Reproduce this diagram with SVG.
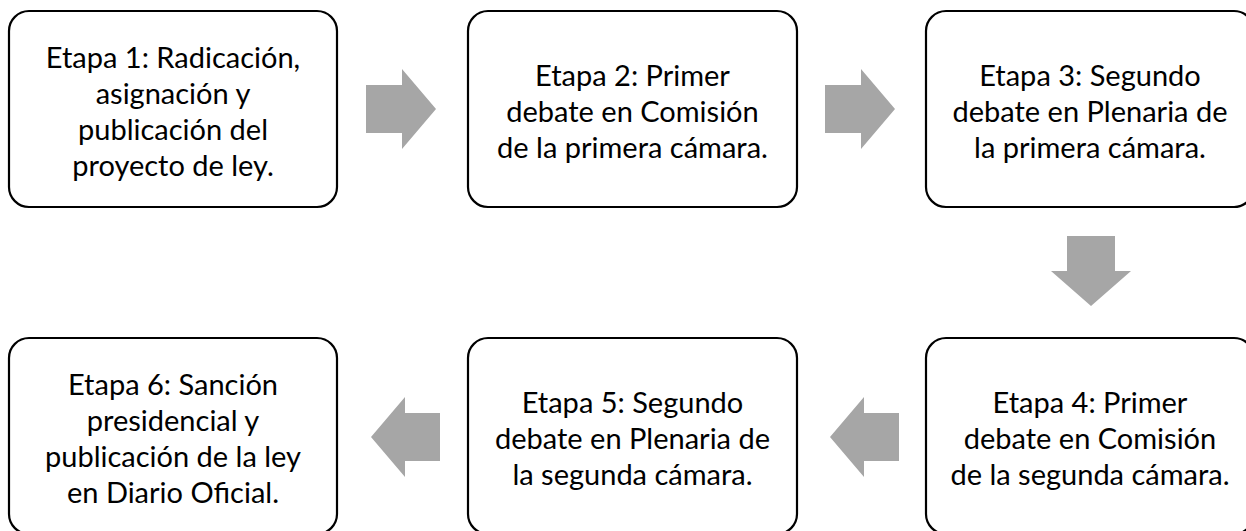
<svg xmlns="http://www.w3.org/2000/svg" width="1246" height="531" viewBox="0 0 1246 531">
<style>
.box{fill:#fff;stroke:#000;stroke-width:2.2}
.lbl{font-family:Lato,"Liberation Sans",sans-serif;font-size:29px;fill:#000;text-anchor:middle}
.arr{fill:#A6A6A6;stroke:none}
</style>
<rect width="1246" height="531" fill="#fff"/>
<g id="node1">
<rect class="box" x="9" y="11" width="328" height="196" rx="20"/>
<text class="lbl"><tspan x="173" y="68">Etapa 1: Radicación,</tspan><tspan x="173" y="104">asignación y</tspan><tspan x="173" y="140">publicación del</tspan><tspan x="173" y="176">proyecto de ley.</tspan></text>
</g>
<g id="node2">
<rect class="box" x="468" y="11" width="329" height="196" rx="20"/>
<text class="lbl"><tspan x="632.5" y="86">Etapa 2: Primer</tspan><tspan x="632.5" y="122">debate en Comisión</tspan><tspan x="632.5" y="158">de la primera cámara.</tspan></text>
</g>
<g id="node3">
<rect class="box" x="926" y="11" width="328" height="196" rx="20"/>
<text class="lbl"><tspan x="1090" y="86">Etapa 3: Segundo</tspan><tspan x="1090" y="122">debate en Plenaria de</tspan><tspan x="1090" y="158">la primera cámara.</tspan></text>
</g>
<g id="node4">
<rect class="box" x="926" y="338" width="328" height="196" rx="20"/>
<text class="lbl"><tspan x="1090" y="413">Etapa 4: Primer</tspan><tspan x="1090" y="449">debate en Comisión</tspan><tspan x="1090" y="485">de la segunda cámara.</tspan></text>
</g>
<g id="node5">
<rect class="box" x="468" y="338" width="329" height="196" rx="20"/>
<text class="lbl"><tspan x="632.5" y="413">Etapa 5: Segundo</tspan><tspan x="632.5" y="449">debate en Plenaria de</tspan><tspan x="632.5" y="485">la segunda cámara.</tspan></text>
</g>
<g id="node6">
<rect class="box" x="9" y="338" width="328" height="196" rx="20"/>
<text class="lbl"><tspan x="173" y="395">Etapa 6: Sanción</tspan><tspan x="173" y="431">presidencial y</tspan><tspan x="173" y="467">publicación de la ley</tspan><tspan x="173" y="503">en Diario Oficial.</tspan></text>
</g>
<g id="connectors">
<polygon class="arr" points="366,85 402,85 402,69 436,109 402,149 402,133 366,133"/>
<polygon class="arr" points="825,85 861,85 861,69 895,109 861,149 861,133 825,133"/>
<polygon class="arr" points="1067,236 1115,236 1115,271 1131,271 1091,306 1051,271 1067,271"/>
<polygon class="arr" points="440,413 405,413 405,397 371,437 405,477 405,461 440,461"/>
<polygon class="arr" points="899,413 864,413 864,397 830,437 864,477 864,461 899,461"/>
</g>
</svg>
